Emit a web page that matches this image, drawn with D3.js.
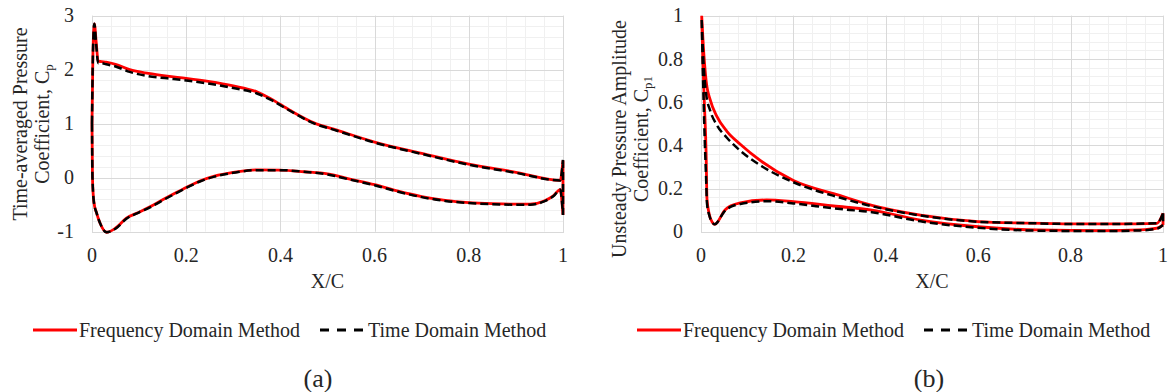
<!DOCTYPE html>
<html>
<head>
    <meta charset="utf-8" />
    <title>Pressure coefficient comparison</title>
    <style>
        body { margin: 0; background: #fff; }
        svg text { font-family: "Liberation Serif", "Times New Roman", serif; fill: #262626; }
    </style>
</head>
<body>
    <div id="chart"></div>
    <script src="https://cdn.jsdelivr.net/npm/d3@7/dist/d3.min.js"></script>
    <script>
        // (a) time-averaged Cp, surface with high Cp
        var aUpperX   = [0, 0.002, 0.005, 0.009, 0.013, 0.02, 0.03, 0.05, 0.08, 0.12, 0.16, 0.2, 0.25, 0.3, 0.35, 0.38, 0.42, 0.47, 0.52, 0.6, 0.7, 0.8, 0.9, 0.994, 1.0];
        var aUpperFdm = [1.0, 2.3, 2.85, 2.5, 2.16, 2.15, 2.14, 2.1, 2.0, 1.93, 1.88, 1.84, 1.78, 1.70, 1.59, 1.46, 1.25, 1.02, 0.88, 0.66, 0.45, 0.25, 0.1, -0.05, 0.32];
        var aUpperTdm = [1.0, 2.3, 2.85, 2.45, 2.12, 2.12, 2.1, 2.06, 1.96, 1.88, 1.84, 1.80, 1.74, 1.66, 1.56, 1.44, 1.24, 1.01, 0.87, 0.65, 0.44, 0.24, 0.09, -0.05, 0.33];
        // (a) surface with low Cp
        var aLowerX   = [0, 0.001, 0.004, 0.01, 0.017, 0.031, 0.049, 0.073, 0.1, 0.123, 0.15, 0.18, 0.2, 0.229, 0.26, 0.3, 0.35, 0.4, 0.45, 0.5, 0.55, 0.6, 0.65, 0.7, 0.75, 0.8, 0.85, 0.9, 0.93, 0.96, 0.98, 0.994, 1.0];
        var aLowerFdm = [1.0, 0.0, -0.45, -0.66, -0.84, -1.01, -0.94, -0.75, -0.64, -0.54, -0.41, -0.27, -0.18, -0.06, 0.03, 0.10, 0.145, 0.14, 0.11, 0.07, -0.03, -0.13, -0.25, -0.35, -0.42, -0.46, -0.48, -0.49, -0.49, -0.43, -0.33, -0.22, -0.69];
        var aLowerTdm = [1.0, 0.0, -0.45, -0.66, -0.84, -1.01, -0.95, -0.76, -0.64, -0.55, -0.42, -0.28, -0.19, -0.07, 0.02, 0.09, 0.14, 0.14, 0.11, 0.06, -0.04, -0.14, -0.26, -0.36, -0.43, -0.47, -0.49, -0.5, -0.5, -0.44, -0.34, -0.22, -0.69];

        // (b) unsteady amplitude Cp1
        var bUpperX   = [0.0015, 0.005, 0.011, 0.02, 0.034, 0.056, 0.085, 0.128, 0.2, 0.3, 0.37, 0.475, 0.6, 0.7, 0.8, 0.9, 0.987, 1.0];
        var bUpperFdm = [1.0, 0.86, 0.7, 0.61, 0.535, 0.465, 0.405, 0.33, 0.237, 0.168, 0.122, 0.077, 0.047, 0.04, 0.036, 0.036, 0.039, 0.085];
        var bUpperTdm = [0.98, 0.80, 0.64, 0.56, 0.495, 0.435, 0.375, 0.308, 0.229, 0.158, 0.118, 0.075, 0.046, 0.04, 0.036, 0.036, 0.039, 0.085];
        var bLowerX   = [0.0015, 0.004, 0.007, 0.011, 0.013, 0.018, 0.024, 0.03, 0.036, 0.041, 0.05, 0.056, 0.065, 0.085, 0.142, 0.2, 0.287, 0.37, 0.475, 0.6, 0.727, 0.872, 0.95, 0.987, 1.0];
        var bLowerFdm = [1.0, 0.8, 0.61, 0.37, 0.15, 0.08, 0.045, 0.034, 0.045, 0.062, 0.095, 0.108, 0.12, 0.134, 0.147, 0.139, 0.119, 0.10, 0.054, 0.023, 0.008, 0.005, 0.008, 0.016, 0.031];
        var bLowerTdm = [0.98, 0.75, 0.5, 0.25, 0.13, 0.075, 0.045, 0.034, 0.045, 0.062, 0.092, 0.104, 0.116, 0.128, 0.141, 0.131, 0.108, 0.09, 0.048, 0.018, 0.005, 0.003, 0.006, 0.014, 0.031];

        var xTicks = [0, 0.2, 0.4, 0.6, 0.8, 1];
        var aYTicks = [-1, 0, 1, 2, 3];
        var bYTicks = [0, 0.2, 0.4, 0.6, 0.8, 1];
        var seriesNames = ["Frequency Domain Method", "Time Domain Method"];

        var svg = d3.select("#chart").append("svg")
            .attr("width", 1170)
            .attr("height", 392);

        function panel(p) {
            var x = d3.scaleLinear().domain([0, 1]).range([p.left, p.right]);
            var y = d3.scaleLinear().domain(p.yDomain).range([p.bottom, p.top]);
            var g = svg.append("g");

            // minor grid
            g.append("g").selectAll("line")
                .data(d3.range(0, 1.0001, 0.04))
                .join("line")
                .attr("x1", d => Math.round(x(d)) + 0.5).attr("x2", d => Math.round(x(d)) + 0.5)
                .attr("y1", p.top).attr("y2", p.bottom)
                .attr("stroke", "#f0f0f0");
            g.append("g").selectAll("line")
                .data(d3.range(p.yDomain[0], p.yDomain[1] + 1e-6, p.yMinor))
                .join("line")
                .attr("x1", p.left).attr("x2", p.right)
                .attr("y1", d => Math.round(y(d)) + 0.5).attr("y2", d => Math.round(y(d)) + 0.5)
                .attr("stroke", "#f0f0f0");
            // major grid
            g.append("g").selectAll("line")
                .data(xTicks)
                .join("line")
                .attr("x1", d => Math.round(x(d)) + 0.5).attr("x2", d => Math.round(x(d)) + 0.5)
                .attr("y1", p.top).attr("y2", p.bottom)
                .attr("stroke", "#d9d9d9");
            g.append("g").selectAll("line")
                .data(p.yTicks)
                .join("line")
                .attr("x1", p.left).attr("x2", p.right)
                .attr("y1", d => Math.round(y(d)) + 0.5).attr("y2", d => Math.round(y(d)) + 0.5)
                .attr("stroke", "#d9d9d9");
            g.append("rect")
                .attr("x", Math.round(p.left) + 0.5).attr("y", Math.round(p.top) + 0.5)
                .attr("width", Math.round(p.right) - Math.round(p.left))
                .attr("height", Math.round(p.bottom) - Math.round(p.top))
                .attr("fill", "none").attr("stroke", "#d9d9d9");

            // tick labels
            g.append("g").selectAll("text")
                .data(p.yTicks)
                .join("text")
                .attr("x", p.left - 18)
                .attr("y", d => y(d))
                .attr("dy", "0.33em")
                .attr("text-anchor", "end")
                .attr("font-size", 20)
                .text(d => d);
            g.append("g").selectAll("text")
                .data(xTicks)
                .join("text")
                .attr("x", d => x(d))
                .attr("y", p.bottom + 30)
                .attr("text-anchor", "middle")
                .attr("font-size", 20)
                .text(d => d);

            g.append("text")
                .attr("x", (p.left + p.right) / 2)
                .attr("y", p.bottom + 56)
                .attr("text-anchor", "middle")
                .attr("font-size", 20)
                .text("X/C");

            // y title, two lines
            var cy = p.titleY;
            g.append("text")
                .attr("transform", "translate(" + p.titleX + "," + cy + ") rotate(-90)")
                .attr("text-anchor", "middle")
                .attr("font-size", 20)
                .text(p.title1);
            var t2 = g.append("text")
                .attr("transform", "translate(" + (p.titleX + 22) + "," + cy + ") rotate(-90)")
                .attr("text-anchor", "middle")
                .attr("font-size", 20);
            t2.append("tspan").text("Coefficient, C");
            t2.append("tspan").attr("font-size", 13).attr("dy", 4).text(p.sub);

            // each surface drawn leading edge -> trailing edge, plus the closing segment at x = 1
            var line = d3.line()
                .x(d => x(d[0])).y(d => y(d[1]))
                .curve(d3.curveMonotoneX);
            function contour(ux, uy, lx, ly) {
                var up = ux.map((v, i) => [v, uy[i]]);
                var lo = lx.map((v, i) => [v, ly[i]]);
                var a = up[up.length - 1], b = lo[lo.length - 1];
                return line(up) + line(lo) + "M" + x(a[0]) + "," + y(a[1]) + "L" + x(b[0]) + "," + y(b[1]);
            }
            g.append("path")
                .attr("d", contour(p.ux, p.fdmU, p.lx, p.fdmL))
                .attr("fill", "none")
                .attr("stroke", "#ff0000")
                .attr("stroke-width", 2.8)
                .attr("stroke-linejoin", "round");
            g.append("path")
                .attr("d", contour(p.ux, p.tdmU, p.lx, p.tdmL))
                .attr("fill", "none")
                .attr("stroke", "#000")
                .attr("stroke-width", 2.5)
                .attr("stroke-dasharray", "8,4");

            // legend
            var ly = 330;
            var lg = g.append("g").attr("transform", "translate(" + p.legendX + ",0)");
            lg.append("line").attr("x1", 0).attr("x2", 44).attr("y1", ly).attr("y2", ly)
                .attr("stroke", "#ff0000").attr("stroke-width", 3);
            lg.append("text").attr("x", 46).attr("y", ly + 7).attr("font-size", 20).text(seriesNames[0]);
            lg.append("line").attr("x1", 287).attr("x2", 333).attr("y1", ly).attr("y2", ly)
                .attr("stroke", "#000").attr("stroke-width", 3).attr("stroke-dasharray", "9,8");
            lg.append("text").attr("x", 335).attr("y", ly + 7).attr("font-size", 20).text(seriesNames[1]);

            g.append("text")
                .attr("x", p.labelX)
                .attr("y", 387)
                .attr("text-anchor", "middle")
                .attr("font-size", 26)
                .attr("fill", "#000")
                .text(p.label);
        }

        panel({
            left: 92, right: 563, top: 15.7, bottom: 231.7,
            yDomain: [-1, 3], yTicks: aYTicks, yMinor: 0.2,
            title1: "Time-averaged Pressure", sub: "p", titleX: 27, titleY: 124,
            ux: aUpperX, fdmU: aUpperFdm, tdmU: aUpperTdm,
            lx: aLowerX, fdmL: aLowerFdm, tdmL: aLowerTdm,
            legendX: 33, labelX: 318, label: "(a)"
        });
        panel({
            left: 701, right: 1163, top: 15.7, bottom: 231.7,
            yDomain: [0, 1], yTicks: bYTicks, yMinor: 0.04,
            title1: "Unsteady Pressure Amplitude", sub: "p1", titleX: 626, titleY: 139,
            ux: bUpperX, fdmU: bUpperFdm, tdmU: bUpperTdm,
            lx: bLowerX, fdmL: bLowerFdm, tdmL: bLowerTdm,
            legendX: 637, labelX: 929, label: "(b)"
        });
    </script>
</body>
</html>
